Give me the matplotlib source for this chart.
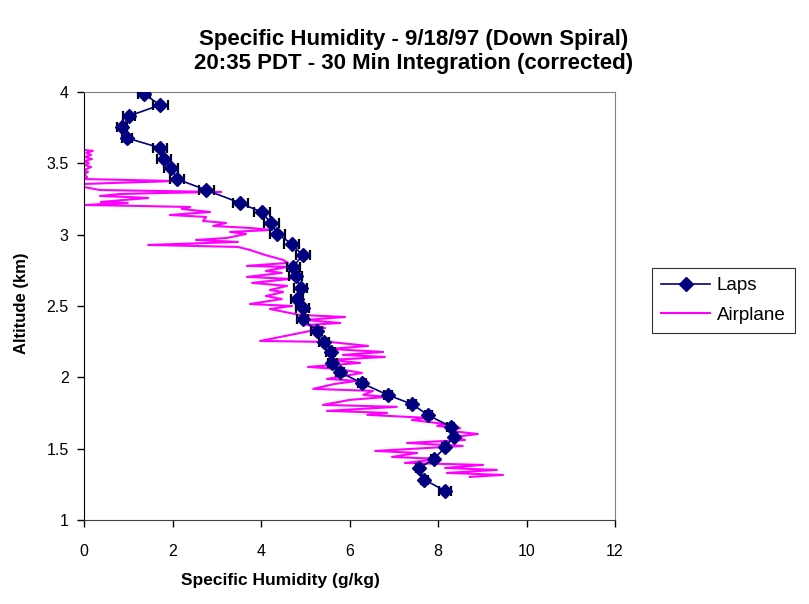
import matplotlib
matplotlib.use("Agg")
import matplotlib.pyplot as plt

# ---------- dati ----------
laps_q = [1.36, 1.72, 1.02, 0.86, 0.97, 1.72, 1.81, 1.97, 2.10, 2.76, 3.53,
          4.02, 4.23, 4.37, 4.70, 4.94, 4.73, 4.78, 4.90, 4.82, 4.94, 4.94,
          5.26, 5.43, 5.58, 5.61, 5.79, 6.28, 6.86, 7.42, 7.78, 8.29, 8.36,
          8.16, 7.91, 7.57, 7.69, 8.16]
laps_alt = [3.986, 3.909, 3.832, 3.755, 3.678, 3.608, 3.530, 3.467, 3.390,
            3.313, 3.222, 3.157, 3.080, 3.005, 2.935, 2.856, 2.776, 2.711,
            2.629, 2.551, 2.484, 2.409, 2.327, 2.250, 2.180, 2.103, 2.036,
            1.959, 1.877, 1.811, 1.734, 1.654, 1.584, 1.510, 1.428, 1.363,
            1.283, 1.204]
laps_err = [0.14, 0.17, 0.135, 0.12, 0.12, 0.16, 0.16, 0.16, 0.16, 0.17, 0.17,
            0.18, 0.17, 0.17, 0.17, 0.16, 0.15, 0.15, 0.15, 0.14, 0.14, 0.13,
            0.12, 0.11, 0.10, 0.10, 0.09, 0.09, 0.09, 0.09, 0.08, 0.08, 0.07,
            0.07, 0.07, 0.07, 0.08, 0.14]

air_q = [0.00, 0.20, 0.05, 0.16, 0.02, 0.18, 0.00, 0.11, 0.02, 0.16, 0.00,
         0.09, 0.00, 0.07, 0.00, 2.08, 0.61, 0.00, 0.00, 0.36, 1.72, 3.10,
         1.72, 0.81, 0.36, 0.99, 1.45, 0.90, 0.38, 0.99, 0.45, 0.00, 1.27,
         2.40, 2.21, 2.85, 1.94, 2.76, 2.69, 3.21, 2.92, 3.75, 4.23, 3.30,
         3.66, 3.23, 2.53, 3.48, 1.45, 3.48, 3.75, 4.09, 4.50, 4.61, 3.68,
         4.59, 4.11, 4.47, 3.68, 4.66, 3.80, 4.59, 4.20, 4.50, 4.11, 4.47,
         3.75, 4.70, 4.20, 4.54, 4.88, 5.90, 4.99, 5.79, 5.04, 5.45, 4.88,
         4.66, 3.98, 5.56, 6.42, 5.56, 6.76, 5.85, 6.80, 5.56, 6.24, 5.06,
         5.72, 6.28, 5.49, 6.17, 5.67, 5.18, 6.53, 6.31, 6.85, 6.01, 5.40,
         7.07, 5.49, 6.85, 6.40, 7.75, 7.41, 8.16, 7.98, 8.50, 8.27, 8.90,
         8.38, 8.61, 7.30, 8.56, 6.58, 7.53, 6.96, 8.05, 7.25, 9.02, 8.16,
         9.33, 8.20, 9.47, 8.72]
air_alt = [3.594, 3.587, 3.573, 3.559, 3.545, 3.530, 3.516, 3.502, 3.488,
           3.474, 3.453, 3.439, 3.425, 3.404, 3.390, 3.376, 3.362, 3.355,
           3.334, 3.313, 3.306, 3.299, 3.292, 3.285, 3.271, 3.264, 3.257,
           3.243, 3.229, 3.222, 3.215, 3.208, 3.201, 3.194, 3.180, 3.159,
           3.138, 3.124, 3.096, 3.082, 3.061, 3.047, 3.033, 3.019, 3.005,
           2.977, 2.963, 2.949, 2.928, 2.914, 2.893, 2.858, 2.823, 2.802,
           2.781, 2.774, 2.746, 2.732, 2.704, 2.690, 2.662, 2.641, 2.612,
           2.598, 2.570, 2.549, 2.514, 2.500, 2.479, 2.458, 2.437, 2.423,
           2.402, 2.381, 2.367, 2.346, 2.311, 2.297, 2.255, 2.248, 2.220,
           2.199, 2.178, 2.157, 2.143, 2.122, 2.101, 2.073, 2.059, 2.031,
           1.989, 1.975, 1.954, 1.919, 1.905, 1.877, 1.863, 1.842, 1.807,
           1.793, 1.765, 1.751, 1.737, 1.716, 1.701, 1.673, 1.659, 1.645,
           1.624, 1.603, 1.582, 1.561, 1.540, 1.519, 1.484, 1.470, 1.442,
           1.428, 1.400, 1.386, 1.365, 1.351, 1.330, 1.316, 1.302]

x_ticks = [0, 2, 4, 6, 8, 10, 12]
y_ticks = [1, 1.5, 2, 2.5, 3, 3.5, 4]
y_labels = ["1", "1.5", "2", "2.5", "3", "3.5", "4"]

NAVY = "#000080"; MAGENTA = "#FF00FF"
plt.rcParams["font.family"] = ["Liberation Sans", "DejaVu Sans"]

W, H = 809, 604
fig = plt.figure(figsize=(W/100, H/100), dpi=100)
ax = fig.add_axes([84/W, 1-520/H, (615-84)/W, (520-92)/H])

ax.plot(air_q, air_alt, color=MAGENTA, lw=1.5, label="Airplane", zorder=2)
ax.errorbar(laps_q, laps_alt, xerr=laps_err, fmt="none", ecolor="black",
            elinewidth=1.0, capsize=3.8, capthick=1.6, zorder=3)
ax.plot(laps_q, laps_alt, color=NAVY, lw=1.2, marker="D", ms=7,
        mfc=NAVY, mec=NAVY, label="Laps", zorder=4)

ax.set_xlim(0, 12); ax.set_ylim(1, 4)
ax.set_xticks(x_ticks)
ax.set_yticks(y_ticks); ax.set_yticklabels(y_labels)
ax.tick_params(direction="out", length=5, width=1, labelsize=11.5)
ax.tick_params(axis="x", pad=12)
ax.tick_params(axis="y", pad=6)
for s in ["top", "right"]:
    ax.spines[s].set_color("#808080"); ax.spines[s].set_linewidth(0.8)
ax.spines["left"].set_color("black")
ax.spines["bottom"].set_color("#404040")

# ordine legenda: Laps, Airplane
h, l = ax.get_legend_handles_labels()
leg = fig.legend([h[1], h[0]], ["Laps", "Airplane"], loc="upper left",
                 bbox_to_anchor=(652/W, 1-268/H), fontsize=13.5,
                 frameon=True, fancybox=False, edgecolor="black",
                 handlelength=2.6, handletextpad=0.35, borderpad=0.5,
                 labelspacing=0.65, borderaxespad=0)
leg.get_frame().set_linewidth(0.8)

fig.text(414/W, 1-39/H, "Specific Humidity - 9/18/97 (Down Spiral)",
         ha="center", va="center", fontsize=16, fontweight="bold")
fig.text(414/W, 1-64/H, "20:35 PDT - 30 Min Integration (corrected)",
         ha="center", va="center", fontsize=16, fontweight="bold")
fig.text(280/W, 1-581/H, "Specific Humidity (g/kg)", ha="center",
         va="center", fontsize=12.5, fontweight="bold")
fig.text(22/W, 1-303/H, "Altitude (km)", ha="center", va="center",
         rotation=90, fontsize=12, fontweight="bold")

fig.savefig("out.png", dpi=100)
